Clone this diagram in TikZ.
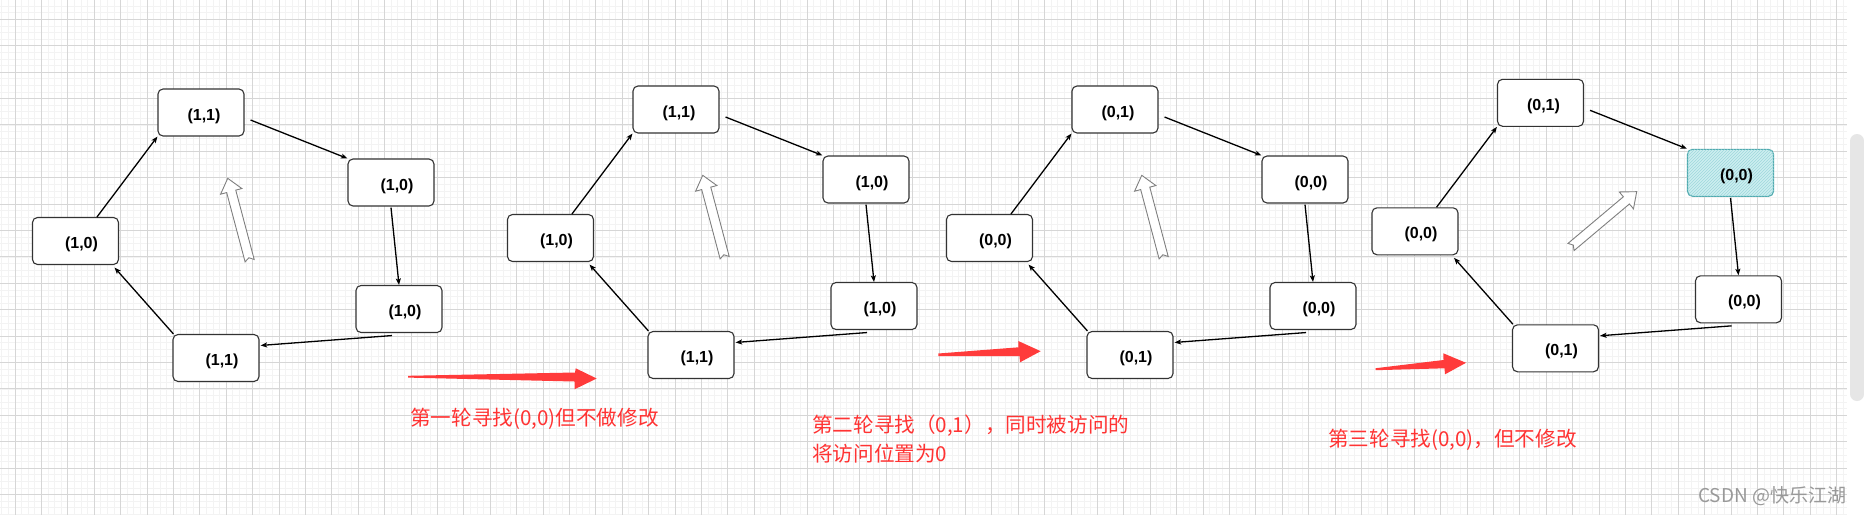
\documentclass[tikz,border=0pt]{standalone}
\usepackage{fontspec}
\setsansfont{Liberation Sans}
\newfontfamily\cjk{Noto Sans CJK SC}
\usetikzlibrary{arrows.meta,patterns}
\definecolor{gridmaj}{HTML}{D6D6D6}
\definecolor{gridmin}{HTML}{F3F3F3}
\definecolor{boxline}{HTML}{333333}
\definecolor{redarrow}{HTML}{FF3B3B}
\definecolor{redtext}{HTML}{FF3333}
\definecolor{tealline}{HTML}{4FA9AE}
\definecolor{tealfill}{HTML}{CDEEF0}
\definecolor{tealhatch}{HTML}{9ED8DC}
\definecolor{hollowline}{HTML}{808080}
\definecolor{scrollbar}{HTML}{E6E6E6}
\definecolor{watermark}{HTML}{999999}

\tikzset{
  cell/.style={draw=boxline, line width=1.1pt, rounded corners=5pt, fill=white,
    minimum width=86pt, minimum height=47pt, inner sep=0pt,
    font=\sffamily\bfseries\fontsize{16}{19}\selectfont, text height=18.7pt, text depth=3.4pt},
  hot/.style={draw=tealline, fill=tealfill, postaction={pattern=north east lines, pattern color=tealhatch}},
  link/.style={draw=black, line width=1.3pt, -{Stealth[length=6.5pt,width=5pt,inset=1.5pt]}},
  hollow/.style={draw=hollowline, fill=white, line width=0.9pt, line join=miter},
  redtip/.style={fill=redarrow, draw=none},
  note/.style={text=redtext, font=\cjk\fontsize{20.6}{29}\selectfont, anchor=west, inner sep=0pt, align=left},
  gridminor/.style={draw=gridmin, line width=0.8pt},
  gridmajor/.style={draw=gridmaj, line width=1pt},
}

\newcommand\ringpanel[8]{%
  \begin{scope}[shift={#2}]
    \node[cell] (T#1) at (201,112.5) {\hspace*{6pt}#3};
    \node[cell,#8] (R#1) at (391,182.5) {\hspace*{12pt}#4};
    \node[cell] (BR#1) at (399,309) {\hspace*{12pt}#5};
    \node[cell] (B#1) at (216,358) {\hspace*{12pt}#6};
    \node[cell] (L#1) at (75.5,241) {\hspace*{12pt}#7};
    \draw[link] ([xshift=21.5pt]L#1.north) -- (T#1.south west);
    \draw[link] ([xshift=6pt,yshift=-7.5pt]T#1.east) -- (R#1.north west);
    \draw[link] ([yshift=-1pt]R#1.south) -- (BR#1.north);
    \draw[link] ([xshift=-7pt,yshift=-2.5pt]BR#1.south) -- ([xshift=1pt,yshift=-11.5pt]B#1.north east);
    \draw[link] ([xshift=1pt]B#1.north west) -- ([xshift=-4.5pt,yshift=-2.5pt]L#1.south east);
  \end{scope}}

\newcommand\hollowarrow[3]{%
  \begin{scope}[shift={#1}, rotate=#2]
    \path[hollow] (0,4.7) -- ({#3-13.5},4.7) -- ({#3-13.5},11) -- (#3,0)
      -- ({#3-13.5},-11) -- ({#3-13.5},-4.7) -- (0,-4.7) -- (3,0) -- cycle;
  \end{scope}}

\begin{document}
\begin{tikzpicture}[x=1pt,y=-1pt]
  \useasboundingbox (0,0) rectangle (1864,515);
  \fill[white] (0,0) rectangle (1864,515);
  % grid
  \foreach \i in {-2,...,277} \draw[gridminor] ({15+6.6*\i},0) -- ({15+6.6*\i},515);
  \foreach \j in {-2,...,75} \draw[gridminor] (0,{19.3+6.6*\j}) -- (1847,{19.3+6.6*\j});
  \foreach \i in {0,...,69} \draw[gridmajor] ({15+26.4*\i},0) -- ({15+26.4*\i},515);
  \foreach \j in {0,...,18} \draw[gridmajor] (0,{19.3+26.4*\j}) -- (1847,{19.3+26.4*\j});
  \fill[white] (1847,0) rectangle (1864,515);
  \fill[scrollbar, rounded corners=7pt] (1850,134) rectangle (1864,401);

  % panels
  \ringpanel{1}{(0,0)}{(1,1)}{(1,0)}{(1,0)}{(1,1)}{(1,0)}{}
  \ringpanel{2}{(475,-3)}{(1,1)}{(1,0)}{(1,0)}{(1,1)}{(1,0)}{}
  \ringpanel{3}{(914,-3)}{(0,1)}{(0,0)}{(0,0)}{(0,1)}{(0,0)}{}
  \ringpanel{4}{(1339.5,-9.7)}{(0,1)}{(0,0)}{(0,0)}{(0,1)}{(0,0)}{hot}

  % hollow direction arrows
  \hollowarrow{(249.65,260.65)}{104.9}{85.2}
  \hollowarrow{(724.65,257.65)}{104.9}{85.2}
  \hollowarrow{(1163.65,257.65)}{104.9}{85.2}
  \hollowarrow{(1571,247)}{40.1}{85.9}

  % red arrows
  \fill[redtip] (408,375.8) -- (575,372.5) -- (575.7,368.3) -- (596.7,378.5)
    -- (574.5,389.3) -- (574.5,381.5) -- (408,377.6) -- cycle;
  \fill[redtip] (938.3,353.5) -- (1018.5,347.3) -- (1018.3,341) -- (1040.7,351.2)
    -- (1020,362.3) -- (1019.5,356) -- (938.3,356.2) -- cycle;
  \fill[redtip] (1375.7,368.2) -- (1443.5,360) -- (1443.3,353.3) -- (1466,362.8)
    -- (1445,374.3) -- (1444.5,368.3) -- (1375.7,370.2) -- cycle;

  % notes
  \node[note] (n1) at (410,418.5) {第一轮寻找(0,0)但不做修改};
  \node[note] (n2) at (812,438.7) {第二轮寻找（0,1），同时被访问的\\将访问位置为0};
  \node[note] (n3) at (1328,440) {第三轮寻找(0,0)，但不修改};
  \node[anchor=west, inner sep=0pt, text=watermark, font=\cjk\fontsize{19}{22}\selectfont] (wm) at (1698,496) {CSDN @快乐江湖};
\end{tikzpicture}
\end{document}
